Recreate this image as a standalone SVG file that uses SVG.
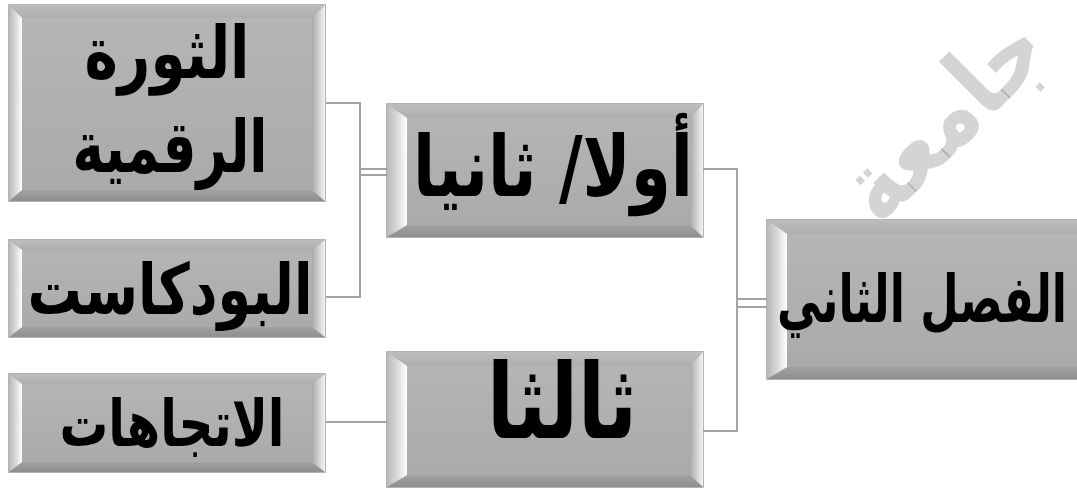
<svg xmlns="http://www.w3.org/2000/svg" width="1077" height="498" viewBox="0 0 1077 498">
<defs>
<linearGradient id="gl" x1="0" y1="0" x2="1" y2="0"><stop offset="0" stop-color="#b8b8b8"/><stop offset="0.5" stop-color="#d8d8d8"/><stop offset="1" stop-color="#ffffff"/></linearGradient>
<linearGradient id="gr" x1="0" y1="0" x2="1" y2="0"><stop offset="0" stop-color="#a9a9a9"/><stop offset="0.6" stop-color="#d6d6d6"/><stop offset="1" stop-color="#f4f4f4"/></linearGradient>
<linearGradient id="gt" x1="0" y1="0" x2="0" y2="1"><stop offset="0" stop-color="#bdbdbd"/><stop offset="1" stop-color="#aeaeae"/></linearGradient>
<linearGradient id="gb" x1="0" y1="0" x2="0" y2="1"><stop offset="0" stop-color="#a2a2a2"/><stop offset="1" stop-color="#8e8e8e"/></linearGradient>
<linearGradient id="gf" x1="0" y1="0" x2="0" y2="1"><stop offset="0" stop-color="#b6b6b6"/><stop offset="1" stop-color="#a9a9a9"/></linearGradient>
</defs>
<style>
.frame{fill:url(#gf);stroke:#9b9b9b;stroke-width:1.5}
.bl{fill:url(#gl)}.br{fill:url(#gr)}.bt{fill:url(#gt)}.bb{fill:url(#gb)}
.lbl{font-family:"DejaVu Sans",sans-serif;font-weight:bold;fill:#000;text-anchor:middle;direction:rtl}
.conn{fill:none;stroke:#a3a3a3;stroke-width:2}
.wm{font-family:"DejaVu Sans",sans-serif;font-weight:bold;fill:#000;fill-opacity:0.17}
</style>
<rect width="1077" height="498" fill="#ffffff"/>
<g id="connectors">
<path class="conn" d="M326,103 H360 V297 H326"/>
<path class="conn" d="M360,169 H387 M360,175 H387"/>
<path class="conn" d="M703,169 H737 V431 H703"/>
<path class="conn" d="M737,299 H767 M737,307 H767"/>
<path class="conn" d="M326,422 H387"/>
</g>
<g id="node-thawra">
<rect class="frame" x="9" y="5" width="316" height="196"/>
<polygon class="bt" points="9,5 325,5 312,18 22,18"/>
<polygon class="bb" points="9,201 325,201 312,190 22,190"/>
<polygon class="bl" points="9,5 22,18 22,190 9,201"/>
<polygon class="br" points="325,5 312,18 312,190 325,201"/>
<text class="lbl" x="167" y="78" font-size="72" textLength="165" lengthAdjust="spacingAndGlyphs">الثورة</text>
<text class="lbl" x="170" y="172" font-size="72" textLength="195" lengthAdjust="spacingAndGlyphs">الرقمية</text>
</g>
<g id="node-podcast">
<rect class="frame" x="9" y="240" width="316" height="97"/>
<polygon class="bt" points="9,240 325,240 312,250 22,250"/>
<polygon class="bb" points="9,337 325,337 312,327 22,327"/>
<polygon class="bl" points="9,240 22,250 22,327 9,337"/>
<polygon class="br" points="325,240 312,250 312,327 325,337"/>
<text class="lbl" x="170" y="314" font-size="70" textLength="285" lengthAdjust="spacingAndGlyphs">البودكاست</text>
</g>
<g id="node-trends">
<rect class="frame" x="9" y="374" width="316" height="98"/>
<polygon class="bt" points="9,374 325,374 312,384 22,384"/>
<polygon class="bb" points="9,472 325,472 312,462 22,462"/>
<polygon class="bl" points="9,374 22,384 22,462 9,472"/>
<polygon class="br" points="325,374 312,384 312,462 325,472"/>
<text class="lbl" x="172" y="446" font-size="64" textLength="225" lengthAdjust="spacingAndGlyphs">الاتجاهات</text>
</g>
<g id="node-first-second">
<rect class="frame" x="387" y="104" width="316" height="133"/>
<polygon class="bt" points="387,104 703,104 690,118 407,118"/>
<polygon class="bb" points="387,237 703,237 690,225 407,225"/>
<polygon class="bl" points="387,104 407,118 407,225 387,237"/>
<polygon class="br" points="703,104 690,118 690,225 703,237"/>
<text class="lbl" x="553" y="196" font-size="84" textLength="280" lengthAdjust="spacingAndGlyphs">أولا/ ثانيا</text>
</g>
<g id="node-third">
<rect class="frame" x="387" y="352" width="316" height="135"/>
<polygon class="bt" points="387,352 703,352 690,366 407,366"/>
<polygon class="bb" points="387,487 703,487 690,475 407,475"/>
<polygon class="bl" points="387,352 407,366 407,475 387,487"/>
<polygon class="br" points="703,352 690,366 690,475 703,487"/>
<text class="lbl" x="562" y="438" font-size="104" textLength="150" lengthAdjust="spacingAndGlyphs">ثالثا</text>
</g>
<g id="node-chapter2">
<rect class="frame" x="767" y="220" width="330" height="159"/>
<polygon class="bt" points="767,220 1097,220 1084,234 787,234"/>
<polygon class="bb" points="767,379 1097,379 1084,367 787,367"/>
<polygon class="bl" points="767,220 787,234 787,367 767,379"/>
<text class="lbl" x="922" y="322" font-size="66" textLength="290" lengthAdjust="spacingAndGlyphs">الفصل الثاني</text>
</g>
<text class="wm" font-size="100" text-anchor="end" transform="translate(880,228) rotate(-45)" textLength="245" lengthAdjust="spacingAndGlyphs" direction="rtl">جامعة</text>
</svg>
